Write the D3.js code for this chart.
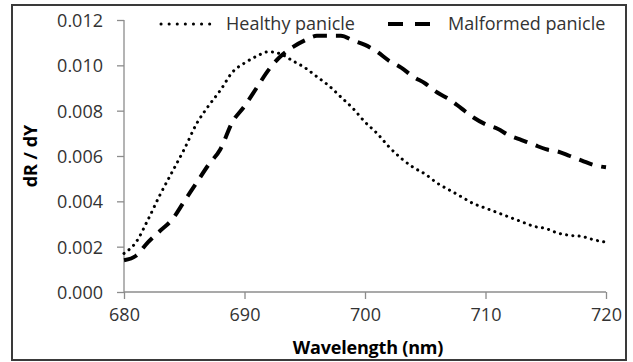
<!DOCTYPE html>
<html>
<head>
<meta charset="utf-8">
<script src="https://cdn.jsdelivr.net/npm/d3@7"></script>
<style>
  body { margin: 0; background: #fff; }
  svg text { font-family: "Open Sans", Lato, sans-serif; }
</style>
</head>
<body>
<svg id="canvas"></svg>
<script>
const width = 633;
const height = 362;
const margin = { top: 20, right: 27, bottom: 70, left: 124 };

// Wavelength (nm) and derivative values
const wavelength = d3.range(680, 721);
const healthy = [
  0.0017, 0.0022, 0.0032, 0.0043, 0.0053, 0.0063, 0.0074, 0.0082, 0.0089, 0.0097,
  0.0101, 0.0104, 0.0106, 0.0105, 0.0102, 0.0099, 0.0095, 0.0091, 0.0086, 0.0081,
  0.0075, 0.0070, 0.0064, 0.0059, 0.0055, 0.0052, 0.0048, 0.0045, 0.0042, 0.0039,
  0.0037, 0.0035, 0.0033, 0.0031, 0.0029, 0.0028, 0.0026, 0.0025, 0.00245, 0.0023,
  0.0022
];
const malformed = [
  0.0014, 0.0016, 0.0022, 0.0027, 0.0032, 0.0040, 0.0048, 0.0056, 0.0063, 0.0075,
  0.0082, 0.0090, 0.0098, 0.0104, 0.0108, 0.0111, 0.0113, 0.0113, 0.0113, 0.0111,
  0.0109, 0.0106, 0.0102, 0.0099, 0.0095, 0.0092, 0.0088, 0.0085, 0.0081, 0.0077,
  0.0074, 0.0072, 0.0069, 0.0067, 0.0065, 0.0063, 0.0062, 0.0060, 0.0058, 0.0056,
  0.0055
];
const xTicks = [680, 690, 700, 710, 720];
const yTicks = [0, 0.002, 0.004, 0.006, 0.008, 0.010, 0.012];
const seriesNames = ['Healthy panicle', 'Malformed panicle'];

const svg = d3.select('#canvas').attr('width', width).attr('height', height);

// outer frame
svg.append('rect')
  .attr('x', 12).attr('y', 5)
  .attr('width', 614).attr('height', 355)
  .attr('fill', 'none')
  .attr('stroke', '#3a3a3a')
  .attr('stroke-width', 2);

const x = d3.scaleLinear().domain([680, 720]).range([margin.left, width - margin.right]);
const y = d3.scaleLinear().domain([0, 0.012]).range([height - margin.bottom, margin.top]);

const xAxis = d3.axisBottom(x).tickValues(xTicks).tickSize(7).tickPadding(9).tickFormat(d3.format('d'));
const yAxis = d3.axisLeft(y).tickValues(yTicks).tickSize(7).tickPadding(14).tickFormat(d3.format('.3f'));

const gx = svg.append('g')
  .attr('transform', `translate(0, ${height - margin.bottom})`)
  .call(xAxis);
const gy = svg.append('g')
  .attr('transform', `translate(${margin.left}, 0)`)
  .call(yAxis);

[gx, gy].forEach((g) => {
  g.select('.domain').attr('stroke', '#8c8c8c').attr('stroke-width', 1.3);
  g.selectAll('.tick line').attr('stroke', '#8c8c8c').attr('stroke-width', 1.3);
  g.selectAll('.tick text').attr('fill', '#333').style('font-size', '18px');
});
// no outer tick stubs on the axis domain ends
gx.select('.domain').attr('d', `M${x(680)},0H${x(720)}`);
gy.select('.domain').attr('d', `M0,${y(0)}V${y(0.012)}`);
gy.selectAll('.tick text').attr('dy', '0.36em');

// axis titles
svg.append('text')
  .attr('x', (x(680) + x(720)) / 2 + 3)
  .attr('y', 354)
  .attr('text-anchor', 'middle')
  .style('font-size', '18px')
  .style('font-weight', 'bold')
  .style('letter-spacing', '-0.2px')
  .text('Wavelength (nm)');

svg.append('text')
  .attr('transform', `translate(37, ${(y(0) + y(0.012)) / 2}) rotate(-90)`)
  .attr('text-anchor', 'middle')
  .style('font-size', '18px')
  .style('font-weight', 'bold')
  .text('dR / dY');

const line = d3.line()
  .x((d) => x(d[0]))
  .y((d) => y(d[1]))
  .curve(d3.curveMonotoneX);

const styles = [
  { dash: '0.1,6.2', width: 3, cap: 'round' },
  { dash: '14,9', width: 4, cap: 'butt' },
];

[healthy, malformed].forEach((vals, i) => {
  svg.append('path')
    .datum(wavelength.map((w, j) => [w, vals[j]]))
    .attr('d', line)
    .attr('fill', 'none')
    .attr('stroke', '#000')
    .attr('stroke-width', styles[i].width)
    .attr('stroke-linecap', styles[i].cap)
    .attr('stroke-dasharray', styles[i].dash);
});

// legend
const legendPos = [{ x1: 161, x2: 210, tx: 226 }, { x1: 388, x2: 432, tx: 448 }];
seriesNames.forEach((name, i) => {
  svg.append('line')
    .attr('x1', legendPos[i].x1).attr('x2', legendPos[i].x2)
    .attr('y1', 24).attr('y2', 24)
    .attr('stroke', '#000')
    .attr('stroke-width', styles[i].width)
    .attr('stroke-linecap', styles[i].cap)
    .attr('stroke-dasharray', i === 0 ? '0.1,8' : '15,12');
  svg.append('text')
    .attr('x', legendPos[i].tx)
    .attr('y', 30)
    .attr('fill', '#333')
    .style('font-size', '18px')
    .text(name);
});
</script>
</body>
</html>
